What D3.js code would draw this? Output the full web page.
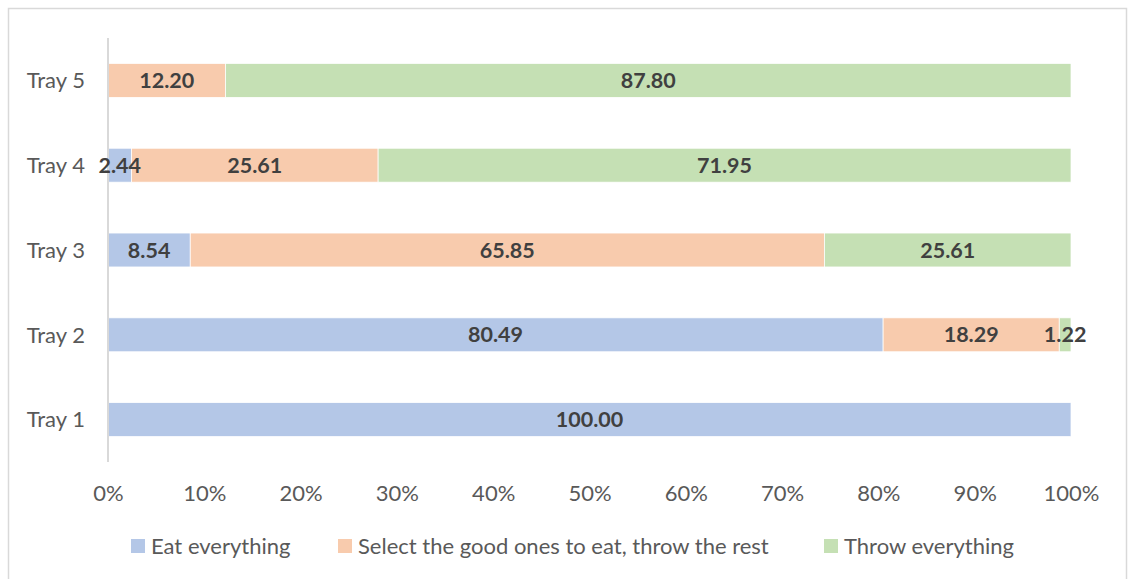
<!DOCTYPE html>
<html>
<head>
<meta charset="utf-8">
<script src="https://cdn.jsdelivr.net/npm/d3@7"></script>
<style>
  html, body { margin: 0; padding: 0; background: #fff; }
  svg { display: block; font-family: Lato, "Open Sans", sans-serif; }
</style>
</head>
<body>
<svg id="chart" width="1130" height="579"></svg>
<script>
// Categories (top to bottom) and the three response shares, in percent
const trays = ["Tray 5", "Tray 4", "Tray 3", "Tray 2", "Tray 1"];
const seriesNames = ["Eat everything", "Select the good ones to eat, throw the rest", "Throw everything"];
const eatEverything = [0, 2.44, 8.54, 80.49, 100.00];
const selectGood = [12.20, 25.61, 65.85, 18.29, 0];
const throwEverything = [87.80, 71.95, 25.61, 1.22, 0];
const tickValues = [0, 0.1, 0.2, 0.3, 0.4, 0.5, 0.6, 0.7, 0.8, 0.9, 1.0];
const colors = ["#b4c7e7", "#f8cbad", "#c5e0b4"];

const svg = d3.select("#chart");

// chart frame
svg.append("rect")
  .attr("x", 8.5).attr("y", 8.5)
  .attr("width", 1118).attr("height", 580)
  .attr("fill", "#fff").attr("stroke", "#d9d9d9").attr("stroke-width", 1.5);

const x = d3.scaleLinear().domain([0, 1]).range([108, 1071]);
const y = d3.scaleBand().domain(trays).range([38, 462]).paddingInner(0.6).paddingOuter(0.3);

const table = trays.map((t, i) => ({
  tray: t,
  [seriesNames[0]]: eatEverything[i] / 100,
  [seriesNames[1]]: selectGood[i] / 100,
  [seriesNames[2]]: throwEverything[i] / 100,
  raw: [eatEverything[i], selectGood[i], throwEverything[i]]
}));
const stacked = d3.stack().keys(seriesNames)(table);

// bars
stacked.forEach((layer, si) => {
  const g = svg.append("g").attr("fill", colors[si]);
  g.selectAll("rect")
    .data(layer.filter(d => d[1] - d[0] > 0))
    .join("rect")
    .attr("x", d => x(d[0]))
    .attr("y", d => y(d.data.tray))
    .attr("width", d => x(d[1]) - x(d[0]))
    .attr("height", y.bandwidth())
    .attr("stroke", "#fff").attr("stroke-width", 0.75);
});

// y axis line and category labels
svg.append("line")
  .attr("x1", 108).attr("x2", 108).attr("y1", 38).attr("y2", 462)
  .attr("stroke", "#d9d9d9").attr("stroke-width", 2);

svg.append("g").selectAll("text")
  .data(trays)
  .join("text")
  .attr("x", 85)
  .attr("y", d => y(d) + y.bandwidth() / 2)
  .attr("dy", "0.35em")
  .attr("text-anchor", "end")
  .attr("fill", "#595959")
  .attr("font-size", 22)
  .text(d => d);

// x axis tick labels
const xAxis = d3.axisBottom(x).tickValues(tickValues).tickFormat(d3.format(".0%")).tickSize(0).tickPadding(0);
const ax = svg.append("g").attr("transform", "translate(0,485)").call(xAxis);
ax.select(".domain").remove();
ax.selectAll("text")
  .attr("fill", "#595959")
  .attr("font-size", 22)
  .attr("font-family", "Lato, 'Open Sans', sans-serif");

// value labels, centred in each segment
stacked.forEach((layer, si) => {
  svg.append("g").selectAll("text")
    .data(layer.filter(d => d[1] - d[0] > 0))
    .join("text")
    .attr("x", d => (x(d[0]) + x(d[1])) / 2)
    .attr("y", d => y(d.data.tray) + y.bandwidth() / 2)
    .attr("dy", "0.35em")
    .attr("text-anchor", "middle")
    .attr("fill", "#404040")
    .attr("font-weight", "bold")
    .attr("font-size", 21.5)
    .text(d => d.data.raw[si].toFixed(2));
});

// legend
const legendItems = [
  { name: seriesNames[0], x: 131 },
  { name: seriesNames[1], x: 338 },
  { name: seriesNames[2], x: 824 }
];
const lg = svg.append("g").selectAll("g")
  .data(legendItems)
  .join("g")
  .attr("transform", d => `translate(${d.x},539)`);
lg.append("rect")
  .attr("width", 14).attr("height", 14)
  .attr("fill", (d, i) => colors[i]);
lg.append("text")
  .attr("x", 20).attr("y", 7).attr("dy", "0.35em")
  .attr("fill", "#595959")
  .attr("font-size", 22)
  .text(d => d.name);
</script>
</body>
</html>
